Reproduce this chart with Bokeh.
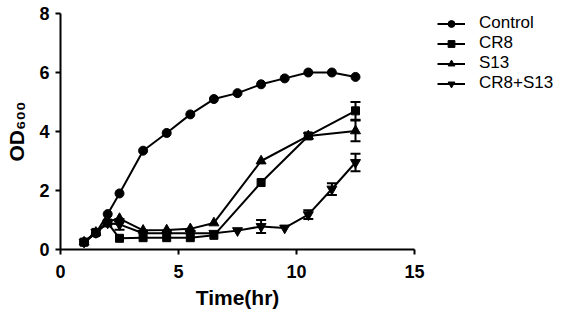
from bokeh.plotting import figure
from bokeh.models import (ColumnDataSource, Whisker, TeeHead, Legend, LegendItem,
                          FixedTicker, Range1d)
from bokeh.embed import file_html
from bokeh.resources import INLINE

# ---- data ----
time_ctrl = [1, 1.5, 2, 2.5, 3.5, 4.5, 5.5, 6.5, 7.5, 8.5, 9.5, 10.5, 11.5, 12.5]
control = [0.25, 0.55, 1.2, 1.9, 3.35, 3.95, 4.58, 5.1, 5.3, 5.6, 5.8, 6.0, 6.0, 5.85]

time_cr8 = [1, 1.5, 2, 2.5, 3.5, 4.5, 5.5, 6.5, 8.5, 10.5, 12.5]
cr8 = [0.25, 0.58, 0.9, 0.38, 0.4, 0.4, 0.4, 0.48, 2.27, 3.85, 4.7]
cr8_err = [0, 0, 0, 0, 0, 0, 0, 0, 0, 0.1, 0.3]

time_s13 = [1, 1.5, 2, 2.5, 3.5, 4.5, 5.5, 6.5, 8.5, 10.5, 12.5]
s13 = [0.25, 0.58, 0.95, 1.05, 0.65, 0.66, 0.7, 0.9, 3.0, 3.85, 4.02]
s13_err = [0, 0, 0, 0, 0, 0, 0, 0, 0, 0, 0.35]

time_combo = [1, 1.5, 2, 2.5, 3.5, 4.5, 5.5, 6.5, 7.5, 8.5, 9.5, 10.5, 11.5, 12.5]
combo = [0.25, 0.58, 0.9, 0.85, 0.55, 0.55, 0.55, 0.55, 0.64, 0.78, 0.73, 1.18, 2.05, 2.95]
combo_err = [0, 0, 0, 0.18, 0, 0, 0, 0, 0, 0.22, 0, 0.15, 0.2, 0.3]

series_names = ["Control", "CR8", "S13", "CR8+S13"]
x_ticks = [0, 5, 10, 15]
y_ticks = [0, 2, 4, 6, 8]

FONT = "Liberation Sans"

p = figure(frame_width=354, frame_height=236, min_border_left=60, min_border_right=152,
           min_border_top=13, min_border_bottom=67,
           x_range=Range1d(0, 15), y_range=Range1d(0, 8),
           output_backend="svg", toolbar_location=None)
p.outline_line_color = None
p.xgrid.visible = False
p.ygrid.visible = False

for ax in (p.xaxis[0], p.yaxis[0]):
    ax.axis_line_width = 2
    ax.major_tick_line_width = 2
    ax.major_tick_out = 5
    ax.major_tick_in = 0
    ax.minor_tick_line_color = None
    ax.major_label_text_font = FONT
    ax.major_label_text_font_style = "bold"
    ax.major_label_text_font_size = "18px"
    ax.major_label_text_color = "black"
    ax.axis_line_color = "black"
    ax.major_tick_line_color = "black"
    ax.axis_label_text_font = FONT
    ax.axis_label_text_font_style = "bold"
    ax.axis_label_text_font_size = "21px"
    ax.axis_label_text_color = "black"

p.xaxis.ticker = FixedTicker(ticks=x_ticks)
p.yaxis.ticker = FixedTicker(ticks=y_ticks)
p.xaxis.major_label_standoff = 10
p.yaxis.major_label_standoff = 6
p.xaxis.axis_label = "Time(hr)"
p.xaxis.axis_label_standoff = 5
p.yaxis.axis_label = "OD\u2086\u2080\u2080"
p.yaxis.axis_label_standoff = 8

def add_series(xs, ys, errs, marker, size):
    line = p.line(xs, ys, line_color="black", line_width=2)
    mk = p.scatter(xs, ys, marker=marker, size=size, fill_color="black", line_color="black")
    if errs is not None:
        ex = [x for x, e in zip(xs, errs) if e > 0]
        ey = [y for y, e in zip(ys, errs) if e > 0]
        ee = [e for e in errs if e > 0]
        src = ColumnDataSource(dict(x=ex, lo=[y - e for y, e in zip(ey, ee)],
                                    hi=[y + e for y, e in zip(ey, ee)]))
        w = Whisker(source=src, base="x", lower="lo", upper="hi", dimension="height",
                    line_color="black", line_width=2,
                    upper_head=TeeHead(size=10, line_width=2, line_color="black"),
                    lower_head=TeeHead(size=10, line_width=2, line_color="black"))
        p.add_layout(w)
    return [line, mk]

r_ctrl = add_series(time_ctrl, control, None, "circle", 9)
r_cr8 = add_series(time_cr8, cr8, cr8_err, "square", 8)
r_s13 = add_series(time_s13, s13, s13_err, "triangle", 10)
r_combo = add_series(time_combo, combo, combo_err, "inverted_triangle", 10)

items = [LegendItem(label=n, renderers=r) for n, r in
         zip(series_names, [r_ctrl, r_cr8, r_s13, r_combo])]
legend = Legend(items=items, location=(23, 156), orientation="vertical",
                glyph_width=28, glyph_height=17, label_height=17, spacing=0,
                padding=0, margin=0, label_standoff=14,
                label_text_font=FONT, label_text_font_size="17px",
                label_text_color="black", border_line_color=None,
                background_fill_alpha=0)
p.add_layout(legend, "right")

open("out.html", "w").write(file_html(p, INLINE))
